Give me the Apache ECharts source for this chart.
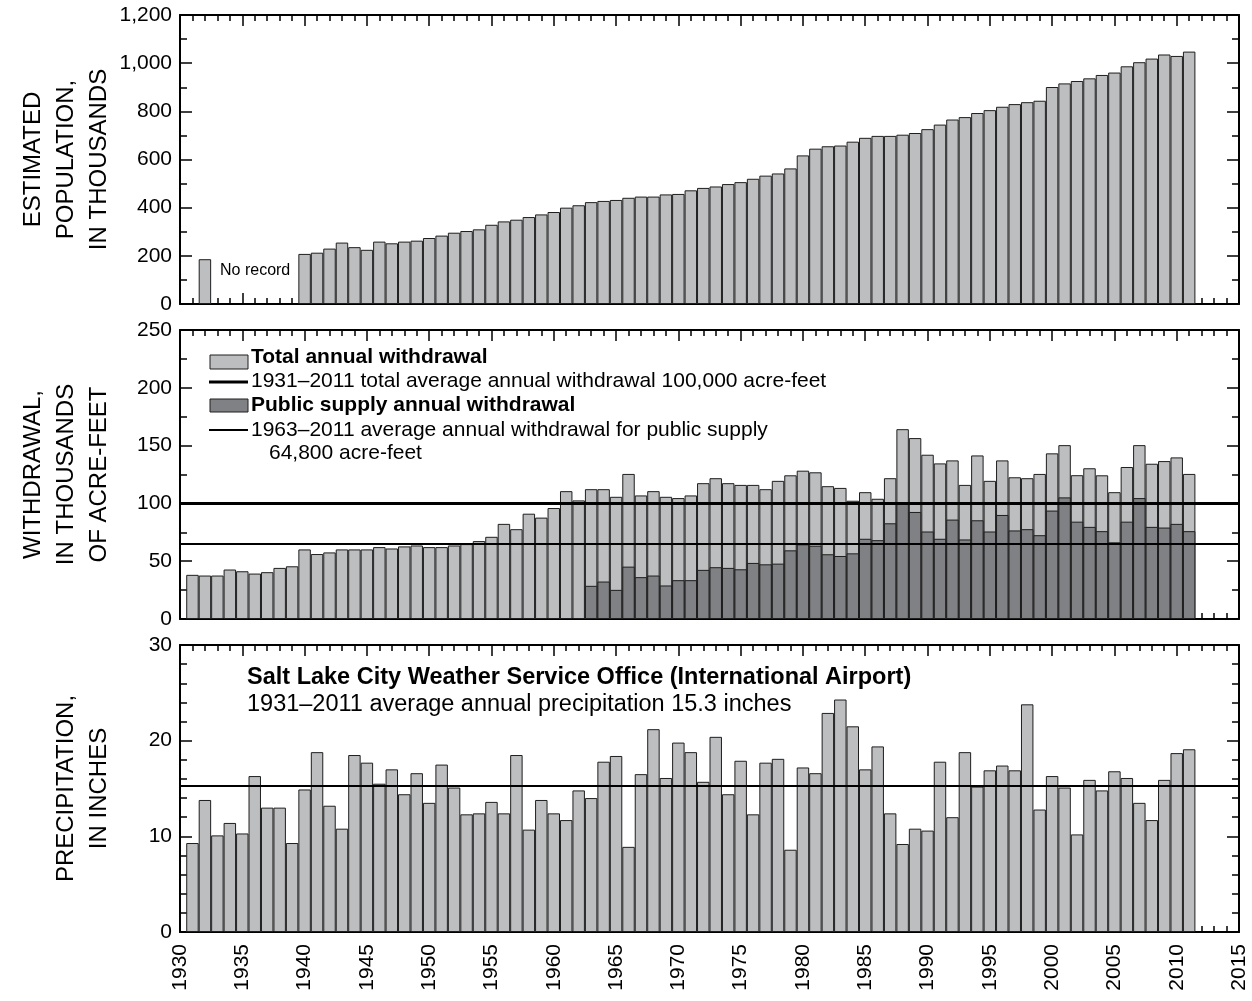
<!DOCTYPE html>
<html>
<head>
<meta charset="utf-8">
<script src="https://cdn.jsdelivr.net/npm/echarts@6/dist/echarts.min.js"></script>
<style>
  html, body { margin: 0; padding: 0; background: #ffffff; }
  #chart { width: 1252px; height: 1001px; }
</style>
</head>
<body>
<div id="chart"></div>
<script>
// ---------------- DATA ----------------
const years = ['1930','1931','1932','1933','1934','1935','1936','1937','1938','1939',
  '1940','1941','1942','1943','1944','1945','1946','1947','1948','1949',
  '1950','1951','1952','1953','1954','1955','1956','1957','1958','1959',
  '1960','1961','1962','1963','1964','1965','1966','1967','1968','1969',
  '1970','1971','1972','1973','1974','1975','1976','1977','1978','1979',
  '1980','1981','1982','1983','1984','1985','1986','1987','1988','1989',
  '1990','1991','1992','1993','1994','1995','1996','1997','1998','1999',
  '2000','2001','2002','2003','2004','2005','2006','2007','2008','2009',
  '2010','2011','2012','2013','2014','2015'];

// Estimated population, in thousands (starts 1931; null = no record)
const populationStart = 1931;
const population = [null, 186, null, null, null, null, null, null, null,
  208, 213, 230, 255, 236, 225, 259, 252, 259, 263,
  274, 284, 296, 303, 310, 329, 343, 350, 361, 372,
  382, 400, 410, 423, 428, 432, 441, 446, 446, 455,
  457, 472, 482, 488, 498, 506, 520, 533, 542, 563,
  617, 645, 655, 658, 674, 690, 698, 698, 703, 710,
  726, 745, 766, 776, 793, 805, 819, 830, 838, 844,
  901, 916, 926, 937, 951, 961, 987, 1004, 1019, 1036,
  1030, 1048];

// Total annual withdrawal, thousands of acre-feet (1931-2011)
const totalStart = 1931;
const totalWithdrawal = [38.2, 37.6, 37.6, 42.8, 41.3, 39.3, 40.5, 44.2, 45.6,
  60.2, 56.2, 57.6, 60.2, 60.2, 60.2, 62.2, 61.0, 62.8, 63.6,
  62.2, 62.2, 63.6, 64.8, 67.4, 71.1, 82.3, 77.7, 91.1, 87.7,
  96.0, 110.6, 102.6, 112.3, 112.3, 105.7, 125.5, 106.9, 110.6, 105.7,
  104.6, 106.9, 117.5, 121.8, 117.5, 116.0, 116.0, 112.3, 119.5, 124.3,
  128.3, 126.9, 114.9, 113.4, 102.3, 109.7, 104.0, 121.8, 164.2, 156.5,
  142.1, 134.6, 137.2, 116.0, 141.5, 119.5, 137.2, 122.6, 121.8, 125.5,
  143.3, 150.4, 124.4, 130.4, 124.3, 109.7, 131.5, 150.4, 134.3, 136.6,
  139.8, 125.5];

// Public supply annual withdrawal, thousands of acre-feet (1963-2011)
const publicStart = 1963;
const publicSupply = [28.7, 32.4, 25.2, 45.3, 36.2, 37.6, 29.0,
  33.6, 33.6, 42.5, 44.8, 44.2, 43.0, 48.5, 47.3, 47.9, 59.4,
  64.6, 63.4, 56.0, 54.5, 56.8, 69.4, 68.2, 82.8, 100.9, 92.6,
  75.7, 69.4, 86.0, 68.8, 85.4, 75.7, 90.0, 76.6, 77.7, 72.5,
  93.8, 105.2, 84.2, 79.7, 76.0, 66.3, 84.2, 104.6, 79.7, 79.1,
  82.3, 76.0];

// Annual precipitation, inches (1931-2011)
const precipStart = 1931;
const precipitation = [9.3, 13.8, 10.1, 11.4, 10.3, 16.3, 13.0, 13.0, 9.3,
  14.9, 18.8, 13.2, 10.8, 18.5, 17.7, 15.5, 17.0, 14.4, 16.6,
  13.5, 17.5, 15.1, 12.3, 12.4, 13.6, 12.4, 18.5, 10.7, 13.8,
  12.4, 11.7, 14.8, 14.0, 17.8, 18.4, 8.9, 16.5, 21.2, 16.1,
  19.8, 18.8, 15.7, 20.4, 14.4, 17.9, 12.3, 17.7, 18.1, 8.6,
  17.2, 16.6, 22.9, 24.3, 21.5, 17.0, 19.4, 12.4, 9.2, 10.8,
  10.6, 17.8, 12.0, 18.8, 15.2, 16.9, 17.4, 16.9, 23.8, 12.8,
  16.3, 15.1, 10.2, 15.9, 14.8, 16.8, 16.1, 13.5, 11.7, 15.9,
  18.7, 19.1];

const avgTotalWithdrawal = 100;     // 1931-2011
const avgPublicWithdrawal = 64.8;   // 1963-2011
const avgPrecipitation = 15.3;      // 1931-2011

const xTicks = { min: 1930, max: 2015, interval: 5 };
const popAxis = { min: 0, max: 1200, interval: 200 };
const wdAxis = { min: 0, max: 250, interval: 50 };
const prAxis = { min: 0, max: 30, interval: 10 };

// ---------------- HELPERS ----------------
function align(start, arr) {
  const out = years.map(() => null);
  arr.forEach((v, i) => {
    const idx = years.indexOf(String(start + i));
    if (idx >= 0) out[idx] = v;
  });
  return out;
}

const FONT = "'Liberation Sans', Arial, Helvetica, sans-serif";
const LIGHT = '#bdbec0';
const DARK = '#808184';
const EDGE = '#1e1e1e';

const gridTops = [15, 330, 645];
const gridHeights = [289, 289, 287];

const grids = gridTops.map((t, i) => ({
  left: 180, right: 13, top: t, height: gridHeights[i],
  containLabel: false, outerBoundsMode: 'none'
}));

const axisLineStyle = { color: '#000', width: 2 };
const tickStyle = { color: '#000', width: 1.5 };

const xAxes = [];
const yAxes = [];
grids.forEach((g, i) => {
  // bottom value axis (ticks / labels)
  xAxes.push({
    type: 'value', gridIndex: i, position: 'bottom',
    min: xTicks.min, max: xTicks.max, interval: xTicks.interval,
    axisLine: { show: true, onZero: false, lineStyle: axisLineStyle },
    axisTick: { show: true, inside: true, length: 11, lineStyle: tickStyle },
    minorTick: { show: true, splitNumber: 5, length: 6, lineStyle: tickStyle },
    splitLine: { show: false },
    axisLabel: {
      show: i === 2, rotate: 90, margin: 12, fontSize: 21, color: '#000',
      fontFamily: FONT, formatter: v => String(v)
    }
  });
  // top value axis (ticks only)
  xAxes.push({
    type: 'value', gridIndex: i, position: 'top',
    min: xTicks.min, max: xTicks.max, interval: xTicks.interval,
    axisLine: { show: true, onZero: false, lineStyle: axisLineStyle },
    axisTick: { show: true, inside: true, length: 11, lineStyle: tickStyle },
    minorTick: { show: true, splitNumber: 5, length: 6, lineStyle: tickStyle },
    splitLine: { show: false },
    axisLabel: { show: false }
  });
  // category axis for bars (hidden)
  xAxes.push({
    type: 'category', gridIndex: i, data: years, boundaryGap: false, show: false,
    axisLine: { onZero: false }
  });
});

const yDefs = [popAxis, wdAxis, prAxis];
const yMinorSplit = [2, 2, 5];
yDefs.forEach((d, i) => {
  yAxes.push({
    type: 'value', gridIndex: i, position: 'left',
    min: d.min, max: d.max, interval: d.interval,
    axisLine: { show: true, onZero: false, lineStyle: axisLineStyle },
    axisTick: { show: true, inside: true, length: 12, lineStyle: tickStyle },
    minorTick: { show: true, splitNumber: yMinorSplit[i], length: 7, lineStyle: tickStyle },
    splitLine: { show: false },
    axisLabel: {
      show: true, margin: 8, fontSize: 21, color: '#000', fontFamily: FONT,
      formatter: v => v.toLocaleString('en-US')
    }
  });
  yAxes.push({
    type: 'value', gridIndex: i, position: 'right',
    min: d.min, max: d.max, interval: d.interval,
    axisLine: { show: true, onZero: false, lineStyle: axisLineStyle },
    axisTick: { show: true, inside: true, length: 12, lineStyle: tickStyle },
    minorTick: { show: true, splitNumber: yMinorSplit[i], length: 7, lineStyle: tickStyle },
    splitLine: { show: false },
    axisLabel: { show: false }
  });
});

function barSeries(name, gridIdx, data, color, extra) {
  return Object.assign({
    name: name, type: 'bar',
    xAxisIndex: gridIdx * 3 + 2, yAxisIndex: gridIdx * 2,
    data: data, barCategoryGap: '0%', barGap: '-100%',
    itemStyle: { color: color, borderColor: EDGE, borderWidth: 1 },
    emphasis: { disabled: true }, silent: true, animation: false
  }, extra || {});
}

const series = [
  barSeries('Estimated population', 0, align(populationStart, population), LIGHT),
  barSeries('Total annual withdrawal', 1, align(totalStart, totalWithdrawal), LIGHT),
  barSeries('Public supply annual withdrawal', 1, align(publicStart, publicSupply), DARK, {
    markLine: {
      symbol: 'none', silent: true, animation: false,
      label: { show: false },
      data: [
        { yAxis: avgTotalWithdrawal, lineStyle: { color: '#000', width: 3, type: 'solid' } },
        { yAxis: avgPublicWithdrawal, lineStyle: { color: '#000', width: 2, type: 'solid' } }
      ]
    }
  }),
  barSeries('Precipitation', 2, align(precipStart, precipitation), LIGHT, {
    markLine: {
      symbol: 'none', silent: true, animation: false,
      label: { show: false },
      data: [{ yAxis: avgPrecipitation, lineStyle: { color: '#000', width: 2, type: 'solid' } }]
    }
  })
];

// ---------------- TEXT / LEGEND GRAPHICS ----------------
function vtext(txt, x, y) {
  return {
    type: 'text', x: x, y: y, rotation: Math.PI / 2, silent: true,
    style: { text: txt, font: "24px " + FONT, fill: '#000', textAlign: 'center', textVerticalAlign: 'middle' }
  };
}
function htext(txt, x, y, size, bold) {
  return {
    type: 'text', x: x, y: y, silent: true,
    style: { text: txt, font: (bold ? 'bold ' : '') + size + 'px ' + FONT, fill: '#000',
      textAlign: 'left', textVerticalAlign: 'middle' }
  };
}

const mid = gridTops.map((t, i) => t + gridHeights[i] / 2);

const graphics = [
  vtext('ESTIMATED', 33, mid[0]),
  vtext('POPULATION,', 66, mid[0]),
  vtext('IN THOUSANDS', 99, mid[0]),
  vtext('WITHDRAWAL,', 33, mid[1]),
  vtext('IN THOUSANDS', 66, mid[1]),
  vtext('OF ACRE-FEET', 99, mid[1]),
  vtext('PRECIPITATION,', 66, mid[2]),
  vtext('IN INCHES', 99, mid[2]),

  htext('No record', 220, 271, 16, false),

  { type: 'rect', silent: true, shape: { x: 210, y: 355, width: 38, height: 14 },
    style: { fill: LIGHT, stroke: EDGE, lineWidth: 1 } },
  htext('Total annual withdrawal', 251, 357, 21, true),
  { type: 'line', silent: true, shape: { x1: 209, y1: 382, x2: 248, y2: 382 },
    style: { stroke: '#000', lineWidth: 3 } },
  htext('1931\u20132011 total average annual withdrawal 100,000 acre-feet', 251, 381, 21, false),
  { type: 'rect', silent: true, shape: { x: 210, y: 399, width: 38, height: 13 },
    style: { fill: DARK, stroke: EDGE, lineWidth: 1 } },
  htext('Public supply annual withdrawal', 251, 405, 21, true),
  { type: 'line', silent: true, shape: { x1: 209, y1: 430, x2: 248, y2: 430 },
    style: { stroke: '#000', lineWidth: 2 } },
  htext('1963\u20132011 average annual withdrawal for public supply', 251, 430, 21, false),
  htext('64,800 acre-feet', 269, 453, 21, false),

  htext('Salt Lake City Weather Service Office (International Airport)', 247, 678, 23.5, true),
  htext('1931\u20132011 average annual precipitation 15.3 inches', 247, 705, 23.5, false)
];

const chart = echarts.init(document.getElementById('chart'), null, { renderer: 'canvas' });
chart.setOption({
  animation: false,
  backgroundColor: '#ffffff',
  textStyle: { fontFamily: FONT },
  grid: grids,
  xAxis: xAxes,
  yAxis: yAxes,
  series: series,
  graphic: graphics
});
</script>
</body>
</html>
